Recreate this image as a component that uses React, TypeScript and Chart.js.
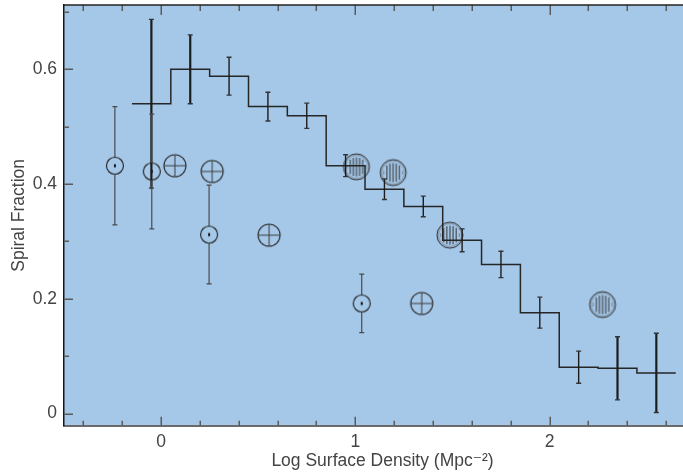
import React, { useEffect, useRef } from "react";
import { Chart, registerables } from "chart.js";

Chart.register(...registerables);

// ---- data ----
const histEdges = [-0.15, 0.05, 0.25, 0.45, 0.65, 0.85, 1.05, 1.25, 1.45, 1.65, 1.85, 2.05, 2.25, 2.45, 2.65];
const histValues = [0.54, 0.6, 0.588, 0.535, 0.519, 0.432, 0.391, 0.361, 0.302, 0.26, 0.176, 0.081, 0.079, 0.071];
const histErr = [0.147, 0.06, 0.033, 0.025, 0.022, 0.019, 0.018, 0.018, 0.02, 0.023, 0.027, 0.028, 0.055, 0.069];

const dotX = [-0.238, -0.048, 0.247, 1.033];
const dotY = [0.432, 0.422, 0.312, 0.192];
const dotErr = [0.103, 0.1, 0.086, 0.051];

const plusX = [0.071, 0.263, 0.556, 1.342];
const plusY = [0.432, 0.422, 0.311, 0.192];

const hatchX = [1.006, 1.195, 1.487, 2.273];
const hatchY = [0.43, 0.42, 0.311, 0.19];

const xMajor = [0, 1, 2];
const xMinor = [-0.4, -0.2, 0.2, 0.4, 0.6, 0.8, 1.2, 1.4, 1.6, 1.8, 2.2, 2.4, 2.6];
const yMajor = [0, 0.2, 0.4, 0.6];
const yMinor = [0.1, 0.3, 0.5, 0.7];

const xTitle = "Log Surface Density (Mpc\u207B\u00B2)";
const yTitle = "Spiral Fraction";

const FONT = "'Liberation Sans', 'DejaVu Sans', Arial, sans-serif";

function makeCanvas(r: number) {
  const c = document.createElement("canvas");
  const s = Math.ceil(r) * 2 + 4;
  c.width = s;
  c.height = s;
  const ctx = c.getContext("2d")!;
  return { c, ctx, m: s / 2 };
}

function dotMarker() {
  const r = 8.5;
  const { c, ctx, m } = makeCanvas(r);
  ctx.strokeStyle = "#1c1c1c";
  ctx.lineWidth = 1.1;
  ctx.beginPath();
  ctx.arc(m, m, r, 0, Math.PI * 2);
  ctx.stroke();
  ctx.fillStyle = "#111";
  ctx.fillRect(m - 1, m - 1.5, 2, 3);
  return c;
}

function plusMarker() {
  const r = 11;
  const { c, ctx, m } = makeCanvas(r);
  ctx.strokeStyle = "#2a2a2a";
  ctx.lineWidth = 1.1;
  ctx.beginPath();
  ctx.arc(m, m, r, 0, Math.PI * 2);
  ctx.stroke();
  ctx.strokeStyle = "#3a3a3a";
  ctx.lineWidth = 1;
  ctx.beginPath();
  ctx.moveTo(m - r, m);
  ctx.lineTo(m + r, m);
  ctx.moveTo(m, m - r);
  ctx.lineTo(m, m + r);
  ctx.stroke();
  return c;
}

function hatchMarker() {
  const r = 13;
  const { c, ctx, m } = makeCanvas(r);
  ctx.strokeStyle = "rgba(70,70,70,0.28)";
  ctx.lineWidth = 1.5;
  ctx.beginPath();
  ctx.arc(m, m, r - 1.6, 0, Math.PI * 2);
  ctx.stroke();
  ctx.strokeStyle = "#2e2e2e";
  ctx.lineWidth = 1;
  ctx.beginPath();
  ctx.arc(m, m, r, 0, Math.PI * 2);
  ctx.stroke();
  const inner = 9.5;
  for (let k = -3; k <= 3; k++) {
    const dx = k * 3.1;
    const h = Math.sqrt(Math.max(0, inner * inner - dx * dx));
    ctx.strokeStyle = Math.abs(k) >= 3 ? "rgba(60,60,60,0.45)" : "#303030";
    ctx.lineWidth = 1;
    ctx.beginPath();
    ctx.moveTo(m + dx, m - h);
    ctx.lineTo(m + dx, m + h);
    ctx.stroke();
  }
  return c;
}

const decorPlugin = {
  id: "decor",
  beforeDraw(chart: any) {
    const { ctx, chartArea: a } = chart;
    ctx.save();
    ctx.fillStyle = "#a6c8e8";
    ctx.fillRect(a.left, a.top, a.right - a.left, a.bottom - a.top);
    ctx.restore();
  },
  afterDatasetsDraw(chart: any) {
    const { ctx, chartArea: a, scales } = chart;
    const xs = scales.x;
    const ys = scales.y;
    ctx.save();
    // histogram error bars
    for (let i = 0; i < histValues.length; i++) {
      const cx = xs.getPixelForValue((histEdges[i] + histEdges[i + 1]) / 2);
      const y1 = ys.getPixelForValue(histValues[i] + histErr[i]);
      const y2 = ys.getPixelForValue(histValues[i] - histErr[i]);
      const thick = histErr[i] > 0.05;
      ctx.strokeStyle = "#1c1c1c";
      ctx.lineWidth = thick ? 2.2 : 1.4;
      ctx.beginPath();
      ctx.moveTo(cx, y1);
      ctx.lineTo(cx, y2);
      ctx.stroke();
      ctx.lineWidth = 1.4;
      ctx.strokeStyle = "#333";
      ctx.beginPath();
      ctx.moveTo(cx - 2.5, y1);
      ctx.lineTo(cx + 2.5, y1);
      ctx.moveTo(cx - 2.5, y2);
      ctx.lineTo(cx + 2.5, y2);
      ctx.stroke();
    }
    // dot-circle error bars
    for (let i = 0; i < dotX.length; i++) {
      const cx = xs.getPixelForValue(dotX[i]);
      const cy = ys.getPixelForValue(dotY[i]);
      const y1 = ys.getPixelForValue(dotY[i] + dotErr[i]);
      const y2 = ys.getPixelForValue(dotY[i] - dotErr[i]);
      ctx.strokeStyle = "#4a4a4a";
      ctx.lineWidth = 1.2;
      ctx.beginPath();
      ctx.moveTo(cx, y1);
      ctx.lineTo(cx, cy - 8.5);
      ctx.moveTo(cx, cy + 8.5);
      ctx.lineTo(cx, y2);
      ctx.moveTo(cx - 2.5, y1);
      ctx.lineTo(cx + 2.5, y1);
      ctx.moveTo(cx - 2.5, y2);
      ctx.lineTo(cx + 2.5, y2);
      ctx.stroke();
    }
    // axis ticks (inward)
    ctx.strokeStyle = "#5a5a5a";
    ctx.lineWidth = 1.5;
    ctx.beginPath();
    for (const v of yMajor.concat(yMinor)) {
      const py = Math.round(ys.getPixelForValue(v)) + 0.25;
      const len = yMajor.includes(v) ? 9 : 5;
      ctx.moveTo(a.left, py);
      ctx.lineTo(a.left + len, py);
    }
    for (const v of xMajor.concat(xMinor)) {
      const px = Math.round(xs.getPixelForValue(v)) + 0.25;
      const len = xMajor.includes(v) ? 9 : 5;
      ctx.moveTo(px, a.bottom);
      ctx.lineTo(px, a.bottom - len);
      ctx.moveTo(px, a.top);
      ctx.lineTo(px, a.top + len + 1);
    }
    ctx.stroke();
    // top frame
    ctx.strokeStyle = "#222";
    ctx.lineWidth = 1.5;
    ctx.beginPath();
    ctx.moveTo(a.left, a.top);
    ctx.lineTo(a.right, a.top);
    ctx.stroke();
    ctx.restore();
  },
};

export default function App() {
  const ref = useRef<HTMLCanvasElement | null>(null);

  useEffect(() => {
    const canvas = ref.current!;
    const stepData = histEdges.map((e, i) => ({ x: e, y: histValues[Math.min(i, histValues.length - 1)] }));
    const chart = new Chart(canvas, {
      type: "scatter",
      data: {
        datasets: [
          {
            type: "line",
            data: stepData,
            stepped: "before",
            borderColor: "#262626",
            borderWidth: 1.5,
            pointRadius: 0,
            fill: false,
          } as any,
          {
            data: dotX.map((x, i) => ({ x, y: dotY[i] })),
            pointStyle: dotMarker(),
            pointRadius: 9,
          } as any,
          {
            data: plusX.map((x, i) => ({ x, y: plusY[i] })),
            pointStyle: plusMarker(),
            pointRadius: 11,
          } as any,
          {
            data: hatchX.map((x, i) => ({ x, y: hatchY[i] })),
            pointStyle: hatchMarker(),
            pointRadius: 13,
          } as any,
        ],
      },
      options: {
        responsive: false,
        animation: false,
        devicePixelRatio: 1,
        layout: { autoPadding: false, padding: { top: 5, left: 0, right: 19, bottom: 0 } },
        plugins: { legend: { display: false }, tooltip: { enabled: false } },
        scales: {
          x: {
            type: "linear",
            min: -0.5,
            max: 2.78,
            grid: { display: false, drawTicks: false },
            border: { display: true, color: "#6a6a6a", width: 2 },
            afterBuildTicks: (s: any) => {
              s.ticks = xMajor.concat(xMinor).sort((a, b) => a - b).map((v) => ({ value: v }));
            },
            afterFit: (s: any) => {
              s.height = 49.3;
              s.paddingLeft = 0;
              s.paddingRight = 0;
            },
            ticks: {
              autoSkip: false,
              maxRotation: 0,
              padding: 6,
              color: "#444",
              font: { family: FONT, size: 17.5 },
              callback: (v: any) => (xMajor.includes(Number(v)) ? String(v) : ""),
            },
            title: {
              display: true,
              text: xTitle,
              color: "#444",
              font: { family: FONT, size: 17.5 },
              padding: { top: 0, bottom: 3 },
            },
          },
          y: {
            type: "linear",
            min: -0.021,
            max: 0.712,
            grid: { display: false, drawTicks: false },
            border: { display: true, color: "#151515", width: 1.5 },
            afterBuildTicks: (s: any) => {
              s.ticks = yMajor.concat(yMinor).sort((a, b) => a - b).map((v) => ({ value: v }));
            },
            afterFit: (s: any) => {
              s.width = 64;
              s.paddingTop = 0;
              s.paddingBottom = 0;
            },
            ticks: {
              autoSkip: false,
              padding: 7,
              color: "#444",
              font: { family: FONT, size: 17.5 },
              callback: (v: any) => (yMajor.includes(Number(v)) ? String(v) : ""),
            },
            title: {
              display: true,
              text: yTitle,
              color: "#444",
              font: { family: FONT, size: 17.5 },
              padding: { top: 9, bottom: 0 },
            },
          },
        },
      },
      plugins: [decorPlugin],
    });
    return () => chart.destroy();
  }, []);

  return (
    <div style={{ position: "fixed", left: 0, top: 0, width: 683, height: 475, overflow: "hidden", background: "#fff" }}>
      <canvas ref={ref} width={720} height={475} style={{ display: "block" }} />
    </div>
  );
}
